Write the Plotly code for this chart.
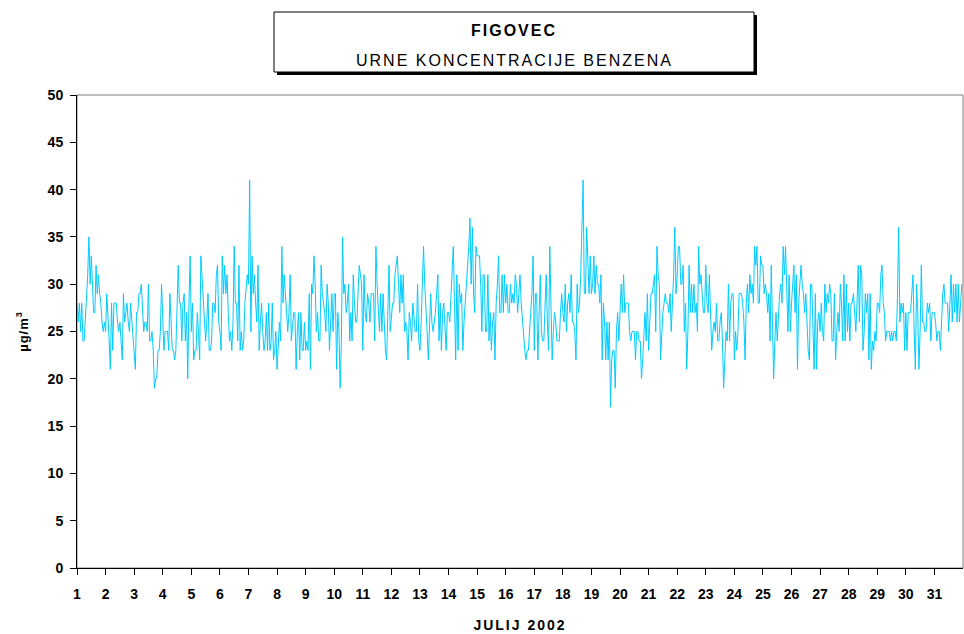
import plotly.graph_objects as go

# Hourly benzene concentrations (µg/m3), July 2002 in 12 consecutive blocks
part01 = [28,26,28,25,28,24,24,26,28,31,35,30,33,30,27,27,32,29,31,29,28,26,25,26,25,29,27,24,21,28,23,28,28,28,26,25,26,24,22,29,26,27,28,26,25,28,26,25,23,21,27,27,29,29,30,27,25,26,26,25,30,24]
part02 = [24,25,23,19,20,20,23,23,25,30,27,23,25,25,25,23,29,26,23,23,22,23,28,32,28,28,24,28,29,24,27,20,28,33,25,28,22,23,23,27,25,22,33,31,29,26,24,26,29,23,23,24,28,28,27,31,32,26,25,23,33,29]
part03 = [32,29,31,27,24,25,23,26,34,28,28,24,32,23,25,23,24,28,30,31,30,41,25,33,29,31,28,26,32,23,26,28,25,23,24,27,23,28,23,24,28,22,23,25,21,24,26,24,34,28,31,29,27,25,27,31,24,26,27,27,21,25]
part04 = [27,22,27,23,23,26,23,24,23,29,21,30,29,33,30,25,27,24,24,32,29,28,27,25,30,28,23,26,29,25,29,29,21,27,25,19,24,35,29,30,27,28,30,24,27,24,31,28,26,26,29,32,31,30,23,31,27,26,29,28,26,29]
part05 = [29,29,24,34,30,27,25,29,25,29,25,23,22,27,32,25,27,28,28,31,32,33,30,27,31,28,31,25,26,25,22,27,26,24,28,26,25,25,30,24,23,26,31,34,30,28,25,22,25,29,26,25,26,27,29,31,24,28,23,27,28,26]
part06 = [23,27,27,26,29,32,34,28,22,31,23,30,28,29,23,26,28,29,31,34,37,30,36,29,27,34,33,33,33,30,25,31,31,25,25,31,24,27,23,26,27,22,28,30,33,27,27,31,27,31,28,30,27,27,30,28,29,28,31,30,27,29]
part07 = [31,28,26,24,23,22,23,23,25,28,29,33,23,29,29,22,28,31,25,24,24,28,31,26,23,34,27,22,25,27,26,24,24,24,27,29,27,26,30,25,28,29,27,31,26,26,25,22,30,27,28,31,36,41,29,29,36,31,29,33,29,30]
part08 = [33,29,32,30,30,28,31,22,28,26,22,26,22,26,17,22,23,23,19,25,27,24,27,30,27,31,27,28,28,28,25,24,25,25,25,22,25,25,24,24,20,22,25,27,24,29,23,26,29,29,30,31,25,34,31,30,22,25,27,28,29,28]
part09 = [28,27,29,25,28,31,36,29,31,34,34,30,30,32,25,28,21,25,32,27,30,27,30,27,28,25,34,30,31,29,27,27,32,28,27,31,27,23,25,26,25,28,24,24,26,27,24,19,22,25,24,30,24,28,29,29,22,25,23,25,29,29]
part10 = [29,28,26,22,28,30,27,31,29,30,28,34,32,34,28,28,33,32,32,29,30,29,27,29,24,32,25,20,24,27,24,27,29,30,28,34,31,34,28,25,31,25,28,30,32,27,31,21,28,30,32,30,29,27,29,26,23,22,30,30,26,21]
part11 = [29,21,26,27,25,28,25,24,30,27,29,28,30,29,24,24,29,22,25,27,25,30,28,24,31,24,30,25,28,24,28,28,29,27,25,28,32,26,32,31,23,25,29,27,29,22,29,21,24,23,25,24,28,28,27,31,32,28,27,24,25,25]
part12 = [25,24,25,24,25,25,24,29,36,26,28,27,28,23,27,23,27,27,27,29,31,25,21,30,27,21,25,32,26,26,25,25,28,27,28,24,27,27,27,26,24,25,25,23,27,29,30,28,28,28,25,29,31,26,30,27,30,26,30,26,28,30]

days = list(range(1, 32))
y_ticks = list(range(0, 51, 5))

title_main = "FIGOVEC"
title_sub = "URNE KONCENTRACIJE BENZENA"
x_title = "JULIJ 2002"
y_title = "µg/m<sup>3</sup>"

values = (part01 + part02 + part03 + part04 + part05 + part06 + part07 + part08
          + part09 + part10 + part11 + part12)
hours_per_day = 24
x_pos = [1 + i / hours_per_day for i in range(len(values))]

FONT = "Liberation Sans, Arial, sans-serif"

fig = go.Figure()
fig.add_trace(go.Scatter(
    x=x_pos, y=values, mode="lines",
    line=dict(color="#00CCFF", width=1),
    hoverinfo="x+y", showlegend=False,
))

W, H = 964, 634
L, R, T, B = 77, 1, 95, 66
pw, ph = W - L - R, H - T - B


def px_x(px):
    return (px - L) / pw


def px_y(py):
    return (H - B - py) / ph


fig.update_layout(
    width=W, height=H,
    margin=dict(l=L, r=R, t=T, b=B, pad=0),
    paper_bgcolor="white", plot_bgcolor="white",
    font=dict(family=FONT, color="black", size=12),
    xaxis=dict(
        range=[1, 32], tickmode="array", tickvals=days, ticktext=[str(d) for d in days],
        ticks="outside", ticklen=6, tickwidth=1, tickcolor="black",
        showline=True, linecolor="black", linewidth=1,
        showgrid=False, zeroline=False, automargin=False,
        ticklabelstandoff=7,
        tickfont=dict(family=FONT, size=14, color="black", weight="bold"),
        title=dict(text=x_title, font=dict(family=FONT, size=14, weight="bold"), standoff=19),
    ),
    yaxis=dict(
        range=[0, 50], tickmode="array", tickvals=y_ticks,
        ticks="outside", ticklen=6, tickwidth=1, tickcolor="black",
        showline=True, linecolor="black", linewidth=1,
        showgrid=False, zeroline=False, automargin=False,
        ticklabelstandoff=4,
        tickfont=dict(family=FONT, size=14, color="black", weight="bold"),
        title=dict(text=y_title, font=dict(family=FONT, size=13, weight="bold"), standoff=16),
    ),
    shapes=[
        # plot frame (top/right)
        dict(type="rect", xref="paper", yref="paper", x0=0, x1=1, y0=0, y1=1,
             line=dict(color="#808080", width=1), layer="below"),
        # title box shadow
        dict(type="rect", xref="paper", yref="paper",
             x0=px_x(277), x1=px_x(757), y0=px_y(75), y1=px_y(15),
             line=dict(width=0), fillcolor="black"),
        # title box
        dict(type="rect", xref="paper", yref="paper",
             x0=px_x(274), x1=px_x(754), y0=px_y(72), y1=px_y(12),
             line=dict(color="black", width=1), fillcolor="white"),
    ],
    annotations=[
        dict(text=title_main, xref="paper", yref="paper", x=px_x(514), y=px_y(30),
             xanchor="center", yanchor="middle", showarrow=False,
             font=dict(family=FONT, size=16, weight="bold")),
        dict(text=title_sub, xref="paper", yref="paper", x=px_x(514), y=px_y(60),
             xanchor="center", yanchor="middle", showarrow=False,
             font=dict(family=FONT, size=16)),
    ],
)

post = """
document.body.style.margin = '0';
var gd = document.getElementById('{plot_id}');
gd.querySelectorAll('.annotation-text').forEach(function (t) { t.style.letterSpacing = '2px'; });
gd.querySelectorAll('.xtitle').forEach(function (t) { t.style.letterSpacing = '2px'; });
gd.querySelectorAll('.ytitle').forEach(function (t) { t.style.letterSpacing = '1px'; });
"""

fig.write_html("out.html", post_script=post, config={"displayModeBar": False})
